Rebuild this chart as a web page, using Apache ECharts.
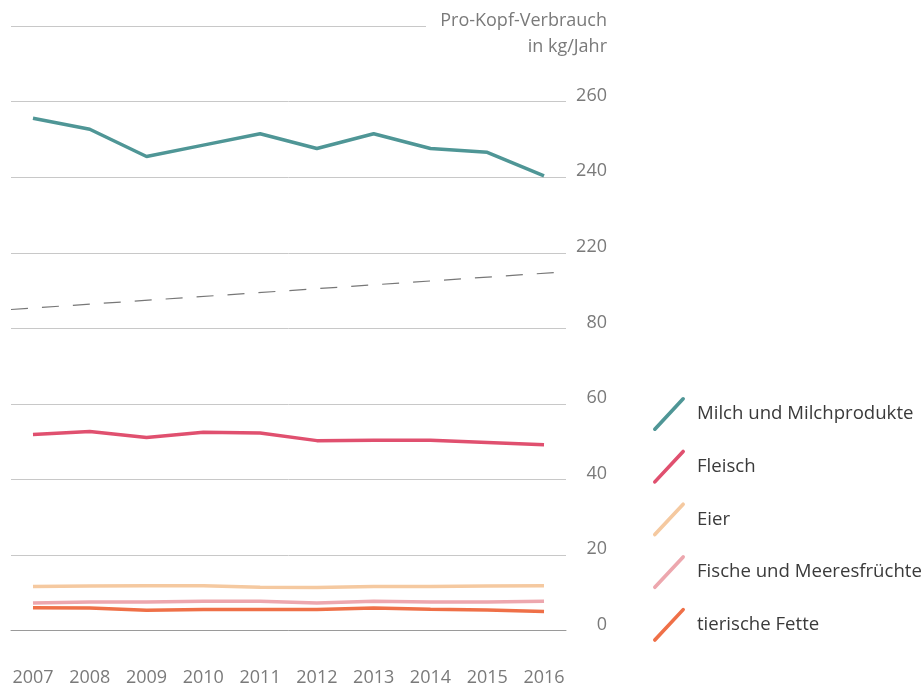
<!DOCTYPE html>
<html>
<head>
<meta charset="utf-8">
<title>Pro-Kopf-Verbrauch</title>
<script src="https://cdn.jsdelivr.net/npm/echarts@6/dist/echarts.min.js"></script>
<style>
    html, body { margin: 0; padding: 0; background: #fff; }
    #chart { width: 923px; height: 690px; }
</style>
</head>
<body>
<div id="chart"></div>
<script>
// Jahre und Werte (kg pro Kopf und Jahr)
const years = [2007, 2008, 2009, 2010, 2011, 2012, 2013, 2014, 2015, 2016];
const milch = [255.6, 252.7, 245.5, 248.5, 251.5, 247.6, 251.5, 247.6, 246.6, 240.4];
const fleisch = [51.9, 52.7, 51.1, 52.5, 52.3, 50.3, 50.4, 50.4, 49.8, 49.2];
const eier = [11.7, 11.8, 11.9, 11.9, 11.5, 11.4, 11.7, 11.7, 11.8, 11.9];
const fische = [7.3, 7.6, 7.6, 7.8, 7.8, 7.3, 7.8, 7.6, 7.6, 7.8];
const fette = [6.1, 6.0, 5.4, 5.6, 5.6, 5.6, 6.0, 5.7, 5.5, 5.1];
const yTickLabels = [0, 20, 40, 60, 80, 220, 240, 260];

// Achsenbruch: 80..220 wird zusammengeschoben
const BREAK_SHIFT = 120;
const toAxis = v => (v > 150 ? v - BREAK_SHIFT : v);

const FONT = 'Open Sans';
const xMin = 2006.613, xMax = 2016.387;

const seriesDefs = [
    { name: 'Milch und Milchprodukte', data: milch, color: '#4f9696' },
    { name: 'Fleisch', data: fleisch, color: '#e0506f' },
    { name: 'Eier', data: eier, color: '#f5c9a0' },
    { name: 'Fische und Meeresfrüchte', data: fische, color: '#eda7ae' },
    { name: 'tierische Fette', data: fette, color: '#ef7048' }
];

const legendIcon = 'path://M0.68,30.77 L28.68,0.77 A1.8,1.8 0 0 1 31.32,3.23 L3.32,33.23 A1.8,1.8 0 0 1 0.68,30.77 Z';

let series = seriesDefs.map(s => ({
    name: s.name,
    type: 'line',
    symbol: 'none',
    color: s.color,
    lineStyle: { width: 3.5, color: s.color },
    data: years.map((y, i) => [y, toAxis(s.data[i])])
}));

// gestrichelte Bruchlinie
series.push({
    name: 'break',
    type: 'line',
    symbol: 'none',
    silent: true,
    lineStyle: { width: 1.2, color: '#777', type: [17, 14] },
    data: [[xMin, 85], [xMax, 95]]
});

let chart = echarts.init(document.getElementById('chart'));
chart.setOption({
    animation: false,
    textStyle: { fontFamily: FONT },
    grid: {
        left: 11,
        right: 357,
        top: 101.7,
        bottom: 59.3
    },
    legend: {
        data: seriesDefs.map(s => s.name),
        orient: 'vertical',
        left: 648,
        top: 392,
        itemWidth: 32,
        itemHeight: 34,
        itemGap: 18.7,
        icon: legendIcon,
        selectedMode: false,
        itemStyle: { borderWidth: 0 },
        textStyle: {
            fontFamily: FONT,
            fontSize: 18.6,
            color: '#3a3a3a',
            padding: [0, 0, 0, 7]
        }
    },
    xAxis: {
        type: 'value',
        min: xMin,
        max: xMax,
        splitLine: { show: false },
        axisTick: { show: false },
        axisLine: { lineStyle: { color: '#9a9a9a', width: 1 } },
        axisLabel: {
            customValues: years,
            formatter: v => String(Math.round(v)),
            margin: 38,
            fontSize: 18,
            color: '#7a7a7a',
            fontFamily: FONT
        }
    },
    yAxis: {
        type: 'value',
        position: 'right',
        min: 0,
        max: 140,
        interval: 20,
        axisLine: { show: false },
        axisTick: { show: false },
        splitLine: { lineStyle: { color: '#c8c8c8', width: 1 } },
        axisLabel: {
            formatter: (v, i) => String(yTickLabels[i]),
            margin: 41,
            align: 'right',
            verticalAlign: 'bottom',
            lineHeight: 12,
            fontSize: 18,
            color: '#7a7a7a',
            fontFamily: FONT
        }
    },
    graphic: [
        {
            type: 'line',
            shape: { x1: 11, y1: 26.5, x2: 426, y2: 26.5 },
            style: { stroke: '#c8c8c8', lineWidth: 1 }
        },
        {
            type: 'text',
            x: 607,
            y: 8,
            style: {
                text: 'Pro-Kopf-Verbrauch\nin kg/Jahr',
                align: 'right',
                fontFamily: FONT,
                fontSize: 18,
                lineHeight: 26,
                fill: '#7a7a7a'
            }
        }
    ],
    series: series
});
</script>
</body>
</html>
